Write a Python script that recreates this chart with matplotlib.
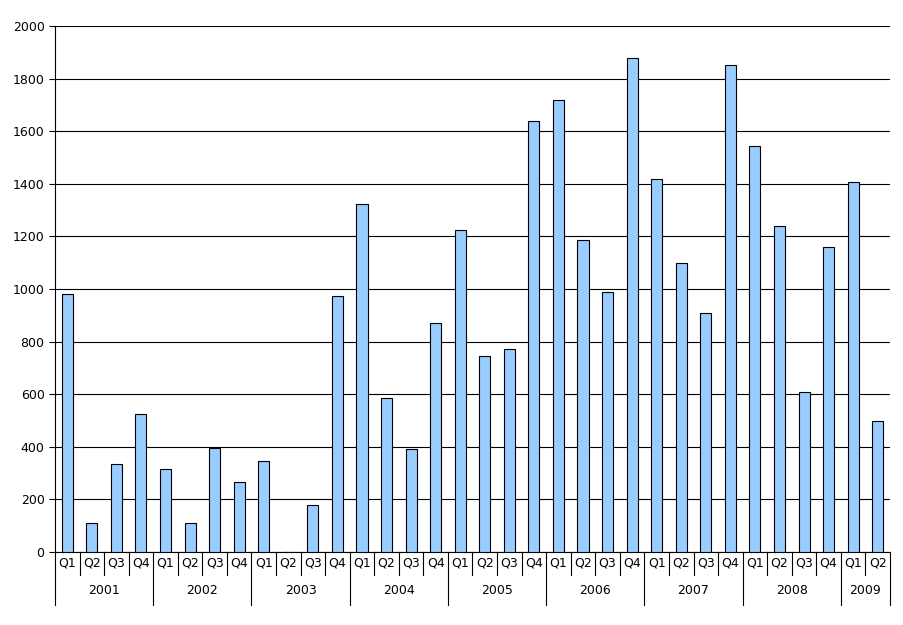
import matplotlib
matplotlib.use("Agg")
import matplotlib.pyplot as plt
from matplotlib.lines import Line2D

years = ["2001","2002","2003","2004","2005","2006","2007","2008","2009"]
quarters = ["Q1","Q2","Q3","Q4"]
values = [980,110,335,525, 315,110,395,265, 345,0,180,975, 1325,585,390,870,
          1225,745,770,1640, 1720,1185,990,1880, 1420,1100,910,1850,
          1545,1240,610,1160, 1405,500]

labels = []
year_of = []
for y in years:
    for q in quarters:
        if len(labels) < len(values):
            labels.append(q); year_of.append(y)
n = len(values)

fig = plt.figure(figsize=(9.04, 6.25), dpi=100)
ax = fig.add_axes([55/904, 1-552/625, 835/904, 526/625])
x = list(range(n))
ax.bar(x, values, width=0.45, color="#99CCFF", edgecolor="black", linewidth=0.8, zorder=3)
ax.set_xlim(-0.5, n-0.5)
ax.set_ylim(0, 2000)
ax.set_yticks(range(0, 2001, 200))
ax.yaxis.grid(True, color="black", linewidth=0.8)
ax.set_axisbelow(True)
for s in ["top", "right"]:
    ax.spines[s].set_visible(False)
ax.tick_params(axis="y", labelsize=9, length=4)
ax.set_xticks([])
ax.tick_params(axis="x", length=0)

tr = ax.get_xaxis_transform()
h1 = -23/526
h2 = -53/526
for i, l in enumerate(labels):
    ax.text(i, -11/526, l, transform=tr, ha="center", va="center", fontsize=9)
for i in range(n+1):
    xb = i - 0.5
    yb = h1
    if i == 0 or i == n or year_of[min(i, n-1)] != year_of[i-1]:
        yb = h2
    ax.add_line(Line2D([xb, xb], [0, yb], transform=tr, color="black", linewidth=0.8, clip_on=False))
start = 0
for i in range(1, n+1):
    if i == n or year_of[i] != year_of[start]:
        ax.text((start + i - 1)/2, -38/526, year_of[start], transform=tr, ha="center", va="center", fontsize=9)
        start = i

fig.savefig("out.png")
